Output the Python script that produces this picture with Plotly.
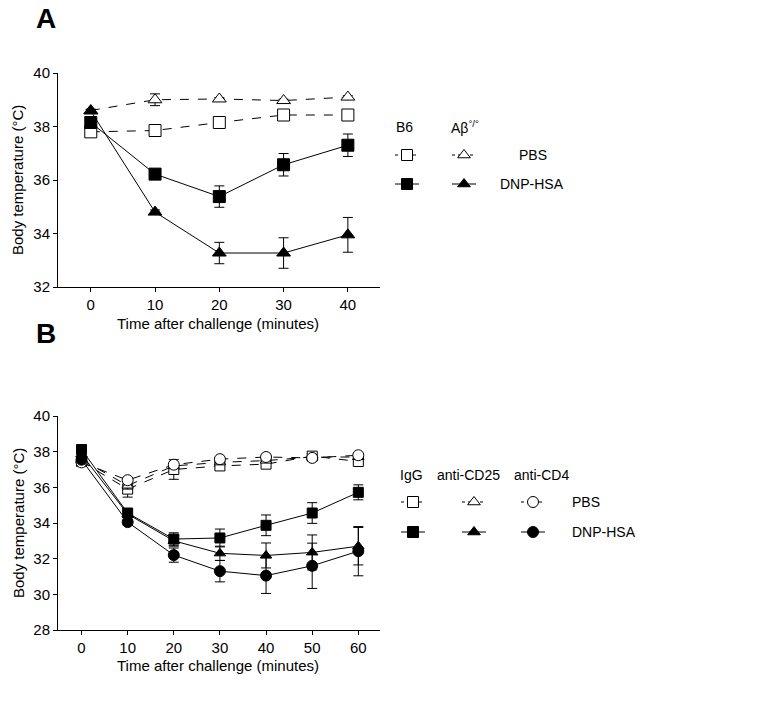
import plotly.graph_objects as go

# ---------------- data ----------------
time_a = [0, 10, 20, 30, 40]
a_b6_pbs = [37.80, 37.85, 38.15, 38.43, 38.43]
a_b6_pbs_err = [0.05, 0.08, 0.12, 0.05, 0.05]
a_ab_pbs = [38.60, 39.00, 39.03, 38.97, 39.10]
a_ab_pbs_err = [0.05, 0.22, 0.05, 0.05, 0.05]
a_b6_dnp = [38.15, 36.22, 35.38, 36.57, 37.30]
a_b6_dnp_err = [0.10, 0.10, 0.40, 0.42, 0.42]
a_ab_dnp = [38.58, 34.80, 33.27, 33.27, 33.95]
a_ab_dnp_err = [0.05, 0.08, 0.40, 0.57, 0.65]

time_b = [0, 10, 20, 30, 40, 50, 60]
b_igg_pbs = [37.45, 35.90, 37.00, 37.20, 37.30, 37.75, 37.45]
b_igg_pbs_err = [0.10, 0.45, 0.55, 0.15, 0.15, 0.15, 0.10]
b_cd25_pbs = [37.55, 36.10, 37.20, 37.40, 37.50, 37.70, 37.70]
b_cd25_pbs_err = [0.10, 0.20, 0.15, 0.10, 0.10, 0.10, 0.10]
b_cd4_pbs = [37.40, 36.40, 37.27, 37.58, 37.70, 37.65, 37.80]
b_cd4_pbs_err = [0.10, 0.15, 0.10, 0.10, 0.10, 0.10, 0.10]
b_igg_dnp = [38.12, 34.56, 33.10, 33.16, 33.87, 34.56, 35.72]
b_igg_dnp_err = [0.10, 0.15, 0.35, 0.50, 0.58, 0.58, 0.42]
b_cd25_dnp = [37.85, 34.50, 33.00, 32.30, 32.18, 32.35, 32.70]
b_cd25_dnp_err = [0.10, 0.15, 0.30, 0.40, 0.70, 0.98, 1.05]
b_cd4_dnp = [37.55, 34.05, 32.20, 31.30, 31.05, 31.60, 32.42]
b_cd4_dnp_err = [0.10, 0.15, 0.40, 0.60, 1.00, 1.27, 1.38]

y_ticks_a = [32, 34, 36, 38, 40]
y_ticks_b = [28, 30, 32, 34, 36, 38, 40]

FONT = "Liberation Sans, Arial, sans-serif"
W, H = 773, 717
OFF = 8  # page body margin in the browser


def px(x):
    return (x - OFF) / W


def py(y):
    return 1 - (y - OFF) / H


fig = go.Figure()


def series(x, y, err, symbol, filled, dashed, xa, ya, size):
    fig.add_trace(go.Scatter(
        x=x, y=y, mode="lines+markers",
        xaxis=xa, yaxis=ya, showlegend=False, cliponaxis=False,
        line=dict(color="black", width=1, dash="dash" if dashed else "solid"),
        marker=dict(symbol=symbol, size=size,
                    color="black" if filled else "white",
                    line=dict(color="black", width=1)),
        error_y=dict(type="data", array=err, visible=True,
                     color="black", thickness=1, width=5),
    ))


# Panel A
series(time_a, a_b6_pbs, a_b6_pbs_err, "square", False, True, "x", "y", 12)
series(time_a, a_ab_pbs, a_ab_pbs_err, "triangle-up", False, True, "x", "y", 12)
series(time_a, a_b6_dnp, a_b6_dnp_err, "square", True, False, "x", "y", 12)
series(time_a, a_ab_dnp, a_ab_dnp_err, "triangle-up", True, False, "x", "y", 12)

# Panel B
series(time_b, b_igg_pbs, b_igg_pbs_err, "square", False, True, "x2", "y2", 10)
series(time_b, b_cd25_pbs, b_cd25_pbs_err, "triangle-up", False, True, "x2", "y2", 10)
series(time_b, b_cd4_pbs, b_cd4_pbs_err, "circle", False, True, "x2", "y2", 11)
series(time_b, b_igg_dnp, b_igg_dnp_err, "square", True, False, "x2", "y2", 10)
series(time_b, b_cd25_dnp, b_cd25_dnp_err, "triangle-up", True, False, "x2", "y2", 10)
series(time_b, b_cd4_dnp, b_cd4_dnp_err, "circle", True, False, "x2", "y2", 11)


# Legend symbols on a pixel-coordinate overlay axis
def legend_sym(cx, cy, symbol, filled, dashed, size):
    fig.add_trace(go.Scatter(
        x=[cx - 12, cx + 12], y=[cy, cy], mode="lines",
        xaxis="x3", yaxis="y3", showlegend=False, hoverinfo="skip",
        line=dict(color="black", width=1, dash="3px,3px" if dashed else "solid"),
    ))
    fig.add_trace(go.Scatter(
        x=[cx], y=[cy], mode="markers",
        xaxis="x3", yaxis="y3", showlegend=False, hoverinfo="skip",
        marker=dict(symbol=symbol, size=size,
                    color="black" if filled else "white",
                    line=dict(color="black", width=1)),
    ))


legend_sym(407, 155, "square", False, True, 11)
legend_sym(464, 155, "triangle-up", False, True, 11)
legend_sym(407, 184, "square", True, False, 11)
legend_sym(464, 184, "triangle-up", True, False, 11)

legend_sym(413, 502, "square", False, True, 11)
legend_sym(474, 502, "triangle-up", False, True, 11)
legend_sym(533, 502, "circle", False, True, 11)
legend_sym(413, 532, "square", True, False, 11)
legend_sym(474, 532, "triangle-up", True, False, 11)
legend_sym(533, 532, "circle", True, False, 11)

axis_common = dict(
    showline=True, linecolor="black", linewidth=1,
    ticks="outside", ticklen=4, tickcolor="black", tickwidth=1,
    showgrid=False, zeroline=False, automargin=False,
    tickfont=dict(family=FONT, size=15, color="black"),
)

xa_dom = [px(58), px(380)]
fig.update_layout(
    width=W, height=H,
    margin=dict(l=0, r=0, t=0, b=0, pad=0, autoexpand=False),
    paper_bgcolor="white", plot_bgcolor="rgba(0,0,0,0)",
    xaxis=dict(domain=xa_dom, range=[-5.1, 45], tickvals=time_a,
               anchor="y", **axis_common),
    yaxis=dict(domain=[py(287), py(73)], range=[32, 40],
               tickvals=y_ticks_a, anchor="x", **axis_common),
    xaxis2=dict(domain=xa_dom, range=[-5.1, 64.7], tickvals=time_b,
                anchor="y2", **axis_common),
    yaxis2=dict(domain=[py(630), py(416)], range=[28, 40],
                tickvals=y_ticks_b, anchor="x2", **axis_common),
    xaxis3=dict(domain=[0, 1], range=[OFF, W + OFF], visible=False,
                anchor="y3", automargin=False),
    yaxis3=dict(domain=[0, 1], range=[H + OFF, OFF], visible=False,
                anchor="x3", automargin=False),
)

ann = []


def txt(x, y, s, size=14, angle=0, xanchor="center"):
    ann.append(dict(
        x=px(x), y=py(y), xref="paper", yref="paper", text=s,
        showarrow=False, xanchor=xanchor, yanchor="middle", textangle=angle,
        font=dict(family=FONT, size=size, color="black"),
    ))


txt(34, 18, "<b>A</b>", size=28, xanchor="left")
txt(34, 333, "<b>B</b>", size=28, xanchor="left")
txt(18, 180, "Body temperature (°C)", size=15, angle=-90)
txt(18, 523, "Body temperature (°C)", size=15, angle=-90)
txt(218, 323, "Time after challenge (minutes)", size=15)
txt(218, 665, "Time after challenge (minutes)", size=15)

txt(394, 127, "B6", xanchor="left")
txt(449, 127, "Aβ<sup>°/°</sup>", xanchor="left")
txt(517, 155, "PBS", xanchor="left")
txt(498, 184, "DNP-HSA", xanchor="left")

txt(398, 475, "IgG", xanchor="left")
txt(435, 475, "anti-CD25", xanchor="left")
txt(512, 475, "anti-CD4", xanchor="left")
txt(570, 502, "PBS", xanchor="left")
txt(570, 532, "DNP-HSA", xanchor="left")

fig.update_layout(annotations=ann)

fig.write_html("out.html")
